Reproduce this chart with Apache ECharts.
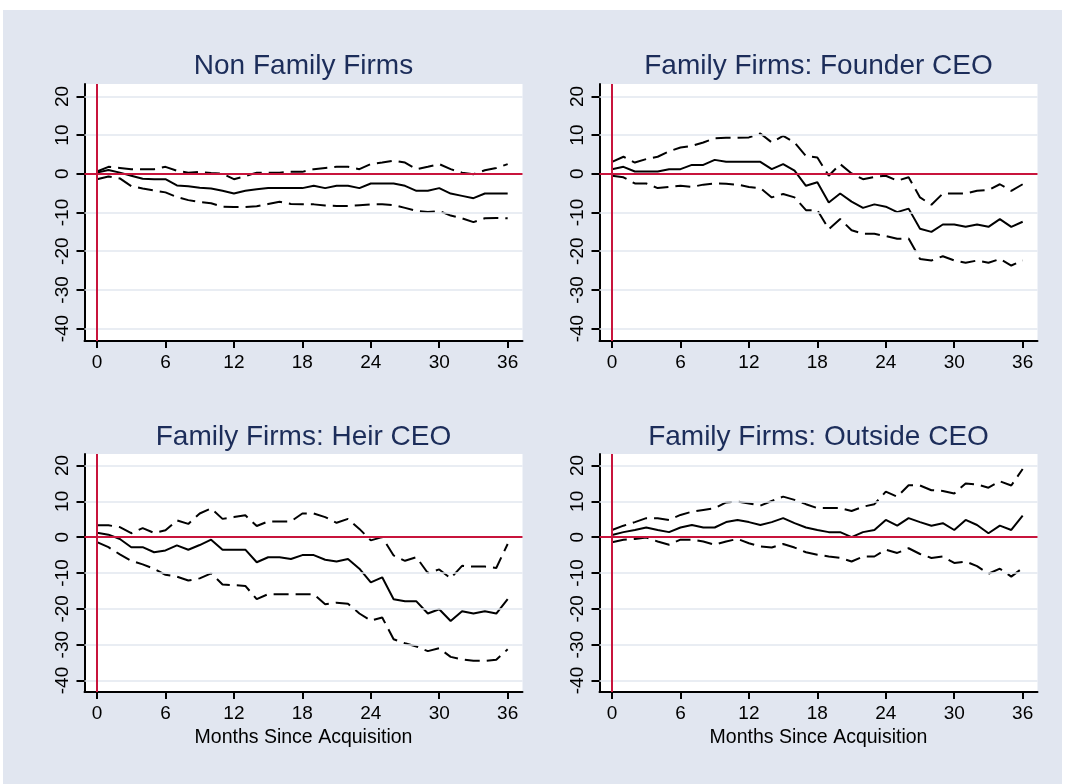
<!DOCTYPE html>
<html><head><meta charset="utf-8">
<script src="https://cdn.jsdelivr.net/npm/echarts@6/dist/echarts.min.js"></script>
<style>html,body{margin:0;padding:0;background:#fff}#c{width:1066px;height:784px}</style>
</head><body><div id="c"></div>
<script>
// ---- data ----
const months = [0,1,2,3,4,5,6,7,8,9,10,11,12,13,14,15,16,17,18,19,20,21,22,23,24,25,26,27,28,29,30,31,32,33,34,35,36];
const xTicks = [0,6,12,18,24,30,36];
const yTicks = [-40,-30,-20,-10,0,10,20];
const panelTitles = ["Non Family Firms","Family Firms: Founder CEO","Family Firms: Heir CEO","Family Firms: Outside CEO"];
const xAxisTitle = "Months Since Acquisition";

const nonFamilyEst   = [0.3,1.0,0.3,-0.5,-1.3,-1.4,-1.4,-3.0,-3.2,-3.6,-3.8,-4.4,-5.1,-4.4,-4.0,-3.7,-3.7,-3.7,-3.7,-3.1,-3.7,-3.1,-3.1,-3.7,-2.5,-2.5,-2.5,-3.1,-4.4,-4.4,-3.7,-5.1,-5.7,-6.3,-5.1,-5.1,-5.1];
const nonFamilyUpper = [0.6,1.8,1.5,1.2,1.2,1.2,1.8,0.8,0.3,0.5,0.2,0.0,-1.4,-0.6,0.3,0.3,0.3,0.5,0.5,1.2,1.5,1.8,1.8,1.2,2.5,2.9,3.4,2.9,1.2,1.8,2.5,1.2,0.3,-0.1,0.9,1.5,2.5];
const nonFamilyLower = [-1.4,-0.7,-1.2,-3.2,-3.8,-4.3,-4.8,-6.0,-6.8,-7.3,-7.6,-8.5,-8.6,-8.6,-8.4,-7.8,-7.2,-7.8,-7.9,-7.9,-8.2,-8.3,-8.3,-8.1,-7.9,-7.9,-8.1,-8.8,-9.6,-9.9,-9.6,-10.8,-11.5,-12.5,-11.5,-11.4,-11.5];

const founderEst   = [1.2,1.8,0.6,0.6,0.6,1.2,1.2,2.3,2.3,3.6,3.1,3.1,3.1,3.1,1.2,2.5,0.8,-3.1,-2.2,-7.4,-5.1,-7.2,-8.8,-7.9,-8.5,-9.9,-9.0,-14.2,-15.0,-13.1,-13.1,-13.7,-13.1,-13.7,-11.7,-13.7,-12.4];
const founderUpper = [3.1,4.4,2.9,3.8,4.4,5.8,6.8,7.2,8.1,9.2,9.3,9.3,9.4,10.4,8.1,9.8,8.1,4.6,4.2,-0.5,2.5,0.1,-1.4,-0.8,-0.5,-1.8,-0.9,-6.1,-8.0,-5.1,-5.1,-5.1,-4.4,-4.2,-2.7,-4.4,-2.7];
const founderLower = [-0.5,-0.9,-2.5,-2.5,-3.7,-3.4,-3.1,-3.4,-2.8,-2.5,-2.6,-2.8,-3.4,-3.7,-6.1,-5.2,-6.1,-9.4,-9.4,-14.3,-11.7,-14.6,-15.5,-15.5,-16.1,-16.8,-16.7,-22.0,-22.4,-21.3,-22.4,-23.0,-22.4,-23.0,-22.0,-23.7,-22.4];

const heirEst   = [1.2,0.7,-0.5,-2.8,-2.8,-4.2,-3.7,-2.3,-3.5,-2.2,-0.7,-3.5,-3.5,-3.5,-7.0,-5.6,-5.6,-6.1,-5.0,-5.0,-6.3,-6.8,-6.1,-8.8,-12.6,-11.2,-17.3,-17.9,-17.9,-21.3,-20.1,-23.4,-20.7,-21.3,-20.7,-21.3,-17.3];
const heirUpper = [3.3,3.3,2.8,1.1,2.5,1.2,1.9,4.7,3.7,6.6,8.0,5.1,5.6,6.1,3.1,4.4,4.4,4.4,6.6,6.6,5.6,4.0,5.1,2.3,-0.9,0.0,-5.1,-6.6,-5.6,-10.0,-9.0,-11.5,-8.0,-8.2,-8.2,-8.6,-1.9];
const heirLower = [-1.4,-2.8,-4.8,-6.6,-7.6,-8.8,-10.5,-11.0,-12.1,-11.5,-10.1,-13.2,-13.4,-13.6,-17.3,-15.9,-15.9,-15.9,-15.9,-15.9,-18.7,-18.3,-18.6,-21.3,-23.3,-22.4,-28.5,-29.6,-30.5,-31.8,-31.0,-33.4,-34.1,-34.5,-34.5,-34.2,-31.3];

const outsideEst   = [0.6,1.4,2.0,2.7,2.0,1.4,2.7,3.4,2.7,2.7,4.2,4.8,4.2,3.4,4.2,5.3,3.9,2.7,2.0,1.4,1.4,0.0,1.4,2.0,4.8,3.2,5.3,4.2,3.2,3.9,2.0,4.8,3.4,1.1,3.2,2.0,6.0];
const outsideUpper = [2.0,3.2,4.2,5.3,5.3,4.8,6.2,7.1,7.6,8.1,9.7,9.9,9.4,8.8,10.1,11.3,10.4,9.2,8.1,8.1,8.1,7.3,8.5,9.2,12.7,11.3,14.5,14.4,13.1,12.9,12.2,15.0,14.7,13.8,15.6,14.4,19.0];
const outsideLower = [-1.4,-0.7,-0.5,-0.1,-1.2,-2.1,-0.7,-0.7,-1.2,-2.1,-1.2,-0.5,-1.7,-2.6,-2.9,-1.9,-2.9,-4.2,-4.9,-5.4,-5.8,-6.8,-5.4,-5.4,-3.5,-4.4,-3.1,-4.7,-5.8,-5.4,-7.2,-6.8,-8.1,-10.2,-8.8,-11.0,-8.6];

const panelData = [
  [nonFamilyLower, nonFamilyEst, nonFamilyUpper],
  [founderLower, founderEst, founderUpper],
  [heirLower, heirEst, heirUpper],
  [outsideLower, outsideEst, outsideUpper]
];

// ---- layout / style ----
const FONT = '"Liberation Sans", Arial, sans-serif';
const BG = '#e1e6f0';
const RED = '#c8143c';
const GRIDC = '#e2e7ef';
const grids = [
  {left: 84.5, top: 84, width: 438, height: 257},
  {left: 599.5, top: 84, width: 438, height: 257},
  {left: 84.5, top: 454, width: 438, height: 238},
  {left: 599.5, top: 454, width: 438, height: 238}
];
const titleY = [66, 66, 437, 437];

const chart = echarts.init(document.getElementById('c'), null, {renderer: 'canvas'});

const xAxes = [], yAxes = [], series = [], graphics = [];
grids.forEach((g, i) => {
  const bottom = i >= 2;
  xAxes.push({
    type: 'value', gridIndex: i, min: -1.1, max: 37.3,
    axisLine: {show: true, onZero: false, lineStyle: {color: '#000', width: 2}},
    axisTick: {show: true, length: 7, customValues: xTicks, lineStyle: {color: '#000', width: 2}},
    axisLabel: {show: true, customValues: xTicks, margin: 12, fontSize: 19, color: '#000', fontFamily: FONT},
    splitLine: {show: false},
    name: bottom ? xAxisTitle : '', nameLocation: 'middle', nameGap: 36,
    nameTextStyle: {fontSize: 19.5, color: '#000', fontFamily: FONT}
  });
  yAxes.push({
    type: 'value', gridIndex: i, min: -43.2, max: 23.2,
    axisLine: {show: true, onZero: false, lineStyle: {color: '#000', width: 2}},
    axisTick: {show: true, length: 8, customValues: yTicks, lineStyle: {color: '#000', width: 2}},
    axisLabel: {show: true, customValues: yTicks, rotate: 90, margin: 12, fontSize: 19, color: '#000', fontFamily: FONT},
    splitLine: {show: false}
  });
  // gridlines + reference lines
  const mlData = yTicks.filter(v => v !== 0).map(v => ({yAxis: v, lineStyle: {color: GRIDC, width: 1.5, type: 'solid'}}));
  mlData.push({yAxis: 0, lineStyle: {color: RED, width: 2, type: 'solid'}});
  mlData.push({xAxis: 0, lineStyle: {color: RED, width: 2, type: 'solid'}});
  series.push({
    type: 'line', xAxisIndex: i, yAxisIndex: i, data: [], z: 1, silent: true,
    markLine: {silent: true, symbol: ['none','none'], label: {show: false}, animation: false, data: mlData}
  });
  panelData[i].forEach((arr, k) => {
    series.push({
      type: 'line', xAxisIndex: i, yAxisIndex: i, z: 3,
      data: months.map((m, j) => [m, arr[j]]),
      symbol: 'none', silent: true,
      lineStyle: {color: '#000', width: 2, type: k === 1 ? 'solid' : [15, 7]}
    });
  });
  graphics.push({
    type: 'text', x: g.left + g.width / 2, y: titleY[i], silent: true,
    style: {text: panelTitles[i], fill: '#1c2d5a', font: '28px ' + FONT, textAlign: 'center', textVerticalAlign: 'middle'}
  });
});
// white margins around the graph region
graphics.push({type: 'rect', shape: {x: 0, y: 0, width: 1066, height: 10}, style: {fill: '#fff'}, silent: true});
graphics.push({type: 'rect', shape: {x: 0, y: 0, width: 3, height: 784}, style: {fill: '#fff'}, silent: true});
graphics.push({type: 'rect', shape: {x: 1062, y: 0, width: 4, height: 784}, style: {fill: '#fff'}, silent: true});

chart.setOption({
  backgroundColor: BG,
  animation: false,
  grid: grids.map(g => Object.assign({show: true, backgroundColor: '#fff', borderWidth: 0, containLabel: false}, g)),
  xAxis: xAxes,
  yAxis: yAxes,
  series: series,
  graphic: graphics
});
</script>
</body></html>
